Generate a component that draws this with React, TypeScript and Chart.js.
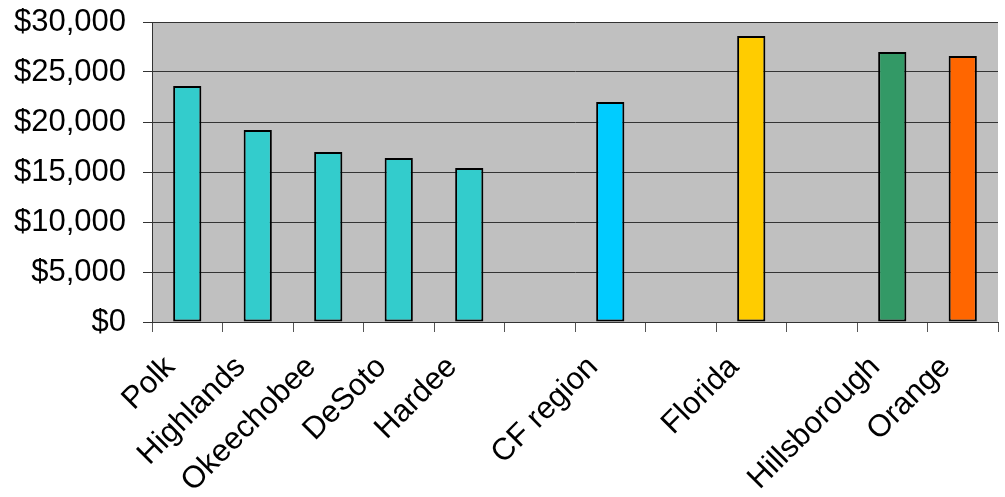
import React, { useEffect, useRef } from "react";
import { Chart, registerables } from "chart.js";

Chart.register(...registerables);

const categories = ["Polk", "Highlands", "Okeechobee", "DeSoto", "Hardee", "", "CF region", "", "Florida", "", "Hillsborough", "Orange"];
const values: (number | null)[] = [23600, 19200, 17000, 16400, 15400, null, 22000, null, 28600, null, 27000, 26600];
const barColors = ["#33CCCC", "#33CCCC", "#33CCCC", "#33CCCC", "#33CCCC", "#33CCCC", "#00CCFF", "#33CCCC", "#FFCC00", "#33CCCC", "#339966", "#FF6600"];
const yTicks = [0, 5000, 10000, 15000, 20000, 25000, 30000];

const FONT = "'Liberation Sans', Arial, sans-serif";

export default function App() {
  const ref = useRef<HTMLCanvasElement>(null);
  useEffect(() => {
    document.body.style.margin = "0";
    const bgPlugin = {
      id: "plotBg",
      beforeDraw(chart: any) {
        const { ctx, chartArea } = chart;
        ctx.save();
        ctx.fillStyle = "#C0C0C0";
        ctx.fillRect(chartArea.left, chartArea.top, chartArea.right - chartArea.left, chartArea.bottom - chartArea.top);
        ctx.restore();
      },
    };
    const chart = new Chart(ref.current!, {
      type: "bar",
      data: {
        labels: categories,
        datasets: [
          {
            data: values,
            backgroundColor: barColors,
            borderColor: "#000",
            borderWidth: 2,
            borderSkipped: false,
            barPercentage: 0.4,
            categoryPercentage: 1,
          },
        ],
      },
      options: {
        animation: false,
        responsive: false,
        maintainAspectRatio: false,
        layout: { padding: { top: 22, right: 7, left: 0, bottom: 0 } },
        plugins: { legend: { display: false }, tooltip: { enabled: false } },
        scales: {
          x: {
            offset: true,
            grid: {
              offset: true,
              drawOnChartArea: true,
              color: (c: any) => (c.index === categories.length ? "#666" : "rgba(0,0,0,0)"),
              tickColor: "#555",
              tickLength: 10,
            },
            border: { color: "#333", width: 1 },
            ticks: {
              autoSkip: false,
              minRotation: 45,
              maxRotation: 45,
              color: "#000",
              font: { family: FONT, size: 31 },
              padding: 17,
              labelOffset: -17,
            },
            afterFit: (s: any) => {
              s.height = 175;
              s.paddingLeft = 0;
              s.paddingRight = 0;
            },
          },
          y: {
            min: 0,
            max: 30000,
            afterBuildTicks: (s: any) => {
              s.ticks = yTicks.map((v) => ({ value: v }));
            },
            grid: { color: "#333", tickColor: "#333", tickLength: 9, lineWidth: 1 },
            border: { color: "#333", width: 1 },
            ticks: {
              color: "#000",
              font: { family: FONT, size: 31 },
              padding: 17,
              callback: (v: any) => "$" + Number(v).toLocaleString("en-US"),
            },
            afterFit: (s: any) => {
              s.width = 152;
              s.paddingTop = 0;
              s.paddingBottom = 0;
            },
          },
        },
      },
      plugins: [bgPlugin],
    });
    return () => chart.destroy();
  }, []);
  return (
    <div style={{ position: "fixed", left: 0, top: 0, width: 1005, height: 497, background: "#fff" }}>
      <canvas ref={ref} width={1005} height={497} />
    </div>
  );
}
